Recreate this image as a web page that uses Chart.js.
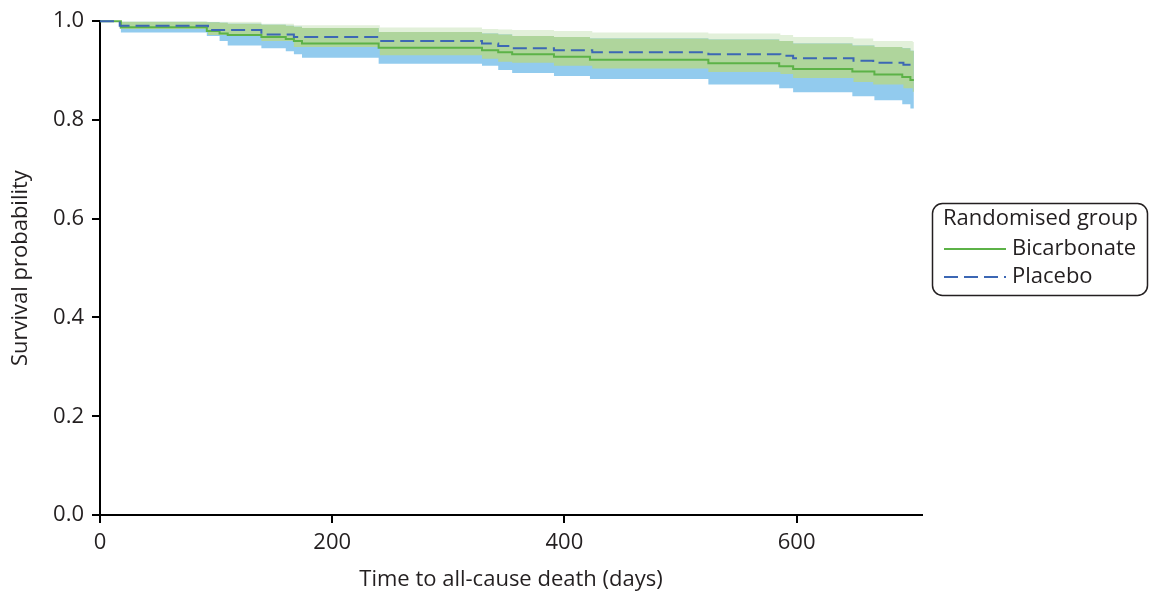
<!DOCTYPE html>
<html>
<head>
<meta charset="utf-8">
<script src="https://cdn.jsdelivr.net/npm/chart.js@4/dist/chart.umd.min.js"></script>
<style>
  html, body { margin: 0; padding: 0; background: #fff; }
  #wrap { width: 1150px; height: 595px; position: relative; }
</style>
</head>
<body>
<div id="wrap"><canvas id="kmChart"></canvas></div>
<script>
// Kaplan-Meier estimates (days, survival probability)
const placeboDays  = [0, 17, 93, 139, 167, 241, 329, 343, 355, 391, 424, 524, 586, 597, 649, 666, 692, 700, 701];
const placeboSurv  = [1.0, 0.991, 0.982, 0.973, 0.968, 0.960, 0.955, 0.950, 0.945, 0.941, 0.937, 0.933, 0.930, 0.925, 0.920, 0.916, 0.912, 0.908, 0.908];
const placeboUpper = [1.0, 1.0, 0.999, 0.995, 0.992, 0.987, 0.984, 0.983, 0.982, 0.980, 0.977, 0.975, 0.972, 0.968, 0.965, 0.960, 0.960, 0.958, 0.958];
const placeboLower = [1.0, 0.984, 0.972, 0.960, 0.948, 0.931, 0.924, 0.918, 0.916, 0.910, 0.904, 0.897, 0.893, 0.885, 0.877, 0.872, 0.864, 0.857, 0.857];

const bicarbDays  = [0, 18, 92, 103, 110, 139, 160, 167, 174, 240, 329, 343, 355, 391, 422, 524, 585, 597, 648, 667, 691, 698, 701];
const bicarbSurv  = [1.0, 0.988, 0.980, 0.975, 0.972, 0.968, 0.964, 0.960, 0.955, 0.946, 0.941, 0.937, 0.933, 0.928, 0.922, 0.915, 0.909, 0.903, 0.898, 0.892, 0.887, 0.881, 0.881];
const bicarbUpper = [1.0, 0.999, 0.998, 0.997, 0.995, 0.993, 0.991, 0.989, 0.986, 0.978, 0.975, 0.973, 0.970, 0.968, 0.965, 0.963, 0.960, 0.955, 0.951, 0.948, 0.945, 0.940, 0.940];
const bicarbLower = [1.0, 0.977, 0.970, 0.960, 0.951, 0.945, 0.939, 0.933, 0.926, 0.914, 0.910, 0.901, 0.895, 0.889, 0.883, 0.872, 0.864, 0.856, 0.848, 0.840, 0.832, 0.823, 0.823];

const xTicks = [0, 200, 400, 600];
const yTicks = [0.0, 0.2, 0.4, 0.6, 0.8, 1.0];

const FONT = 'Open Sans';
const FSIZE = 22;
const TEXT = '#231f20';

const pts = (xs, ys) => xs.map((x, i) => ({ x: x, y: ys[i] }));

// boundary line for a shaded band, filled to the next dataset
const band = (xs, ys, color, fill) => ({
    label: '',
    data: pts(xs, ys),
    stepped: 'before',
    borderWidth: 0,
    pointRadius: 0,
    backgroundColor: color,
    fill: fill
});

// legend box drawn like the original (title + line samples, rounded frame)
const boxLegend = {
    id: 'boxLegend',
    afterDraw(chart) {
        const ctx = chart.ctx;
        const items = chart.data.datasets.slice(0, 2).reverse();
        ctx.save();
        ctx.strokeStyle = '#231f20';
        ctx.lineWidth = 1.5;
        ctx.beginPath();
        ctx.roundRect(932.5, 203.5, 215, 92, 10);
        ctx.stroke();
        ctx.fillStyle = TEXT;
        ctx.font = FSIZE + 'px "' + FONT + '"';
        ctx.textBaseline = 'middle';
        ctx.fillText('Randomised group', 943, 219);
        items.forEach((ds, i) => {
            const y = 249 + i * 28;
            ctx.beginPath();
            ctx.strokeStyle = ds.borderColor;
            ctx.lineWidth = 2;
            ctx.setLineDash(ds.borderDash || []);
            ctx.moveTo(944, y);
            ctx.lineTo(1006, y);
            ctx.stroke();
            ctx.setLineDash([]);
            ctx.fillText(ds.label, 1012, y);
        });
        ctx.restore();
    }
};

new Chart(document.getElementById('kmChart').getContext('2d'), {
    type: 'line',
    data: {
        datasets: [
            {
                label: 'Placebo',
                data: pts(placeboDays, placeboSurv),
                stepped: 'before',
                borderColor: '#3c67b4',
                borderWidth: 2,
                borderDash: [14, 6],
                pointRadius: 0,
                clip: 4,
                fill: false
            },
            {
                label: 'Bicarbonate',
                data: pts(bicarbDays, bicarbSurv),
                stepped: 'before',
                borderColor: '#5cb247',
                borderWidth: 2,
                pointRadius: 0,
                clip: 4,
                fill: false
            },
            // overlap of both confidence intervals
            band(bicarbDays, bicarbUpper, '#afd59c', '+1'),
            band(placeboDays, placeboLower, 'transparent', false),
            // bicarbonate CI
            band(bicarbDays, bicarbUpper, '#92cbee', '+1'),
            band(bicarbDays, bicarbLower, 'transparent', false),
            // placebo CI
            band(placeboDays, placeboUpper, '#e2f0da', '+1'),
            band(placeboDays, placeboLower, 'transparent', false)
        ]
    },
    options: {
        responsive: true,
        maintainAspectRatio: false,
        animation: false,
        layout: { padding: { top: 21, right: 228, left: 0, bottom: 0 } },
        plugins: {
            legend: { display: false },
            tooltip: { enabled: false }
        },
        scales: {
            x: {
                type: 'linear',
                min: 0,
                max: 708,
                afterFit: s => { s.height = 80; },
                afterBuildTicks: s => { s.ticks = xTicks.map(v => ({ value: v })); },
                border: { color: '#000', width: 2 },
                grid: { drawOnChartArea: false, drawTicks: true, tickLength: 8, color: '#000', lineWidth: 2 },
                ticks: { color: TEXT, font: { family: FONT, size: FSIZE }, padding: 7, maxRotation: 0 },
                title: { display: true, text: 'Time to all-cause death (days)', color: TEXT, font: { family: FONT, size: FSIZE }, padding: { bottom: 2 } }
            },
            y: {
                min: 0,
                max: 1,
                afterFit: s => { s.width = 100; },
                afterBuildTicks: s => { s.ticks = yTicks.map(v => ({ value: v })); },
                border: { color: '#000', width: 2 },
                grid: { drawOnChartArea: false, drawTicks: true, tickLength: 8, color: '#000', lineWidth: 2 },
                ticks: { color: TEXT, font: { family: FONT, size: FSIZE }, padding: 8, callback: v => v.toFixed(1) },
                title: { display: true, text: 'Survival probability', color: TEXT, font: { family: FONT, size: FSIZE }, padding: { top: 8 } }
            }
        }
    },
    plugins: [boxLegend]
});
</script>
</body>
</html>
